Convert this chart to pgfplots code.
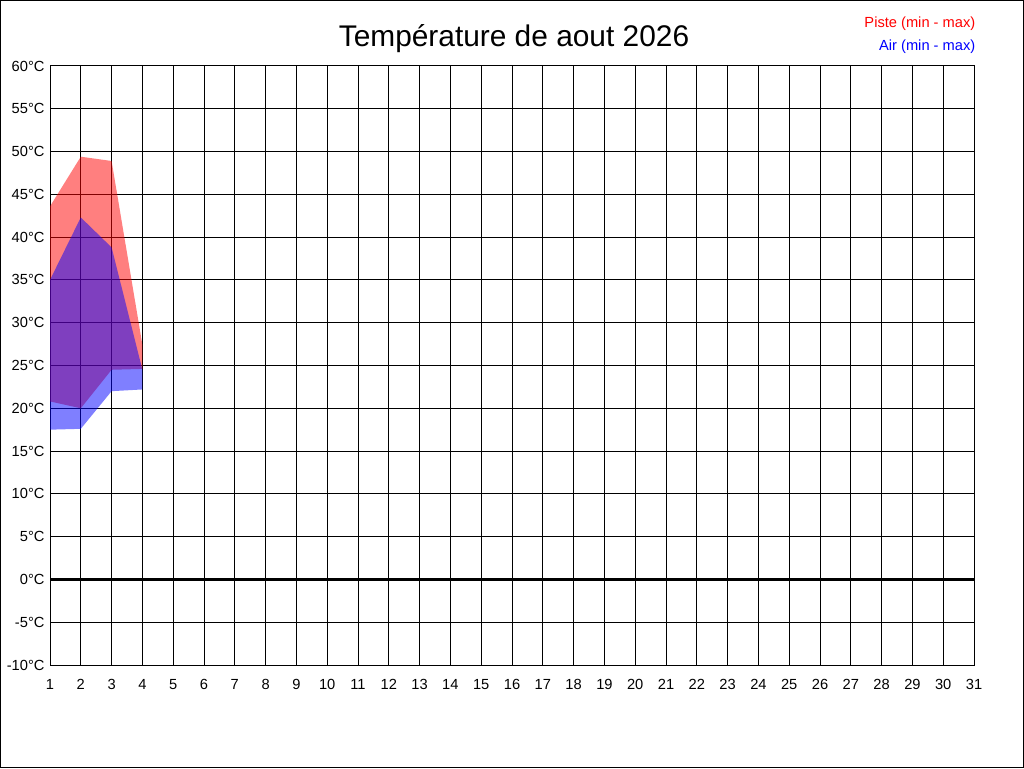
\documentclass[border=0pt]{standalone}
\usepackage{pgfplots}
\pgfplotsset{compat=1.18}
\usepackage{fontspec}
\setmainfont{Liberation Sans}
\begin{document}
\begin{tikzpicture}
\useasboundingbox (0,0) rectangle (768pt,576pt);
\draw[black,line width=0.75pt] (0.375pt,0.375pt) rectangle (767.625pt,575.625pt);
\begin{axis}[
  at={(37.5pt,77.25pt)}, anchor=south west,
  scale only axis, width=693pt, height=449.25pt,
  xmin=1, xmax=31, ymin=-10, ymax=60,
  xtick={1,...,31}, ytick={-10,-5,...,60},
  yticklabels={-10°C,-5°C,0°C,5°C,10°C,15°C,20°C,25°C,30°C,35°C,40°C,45°C,50°C,55°C,60°C},
  /pgf/number format/assume math mode=true,
  tick label style={font=\fontsize{11}{12}\selectfont},
  major tick length=0pt,
  grid=major, grid style={black, line width=0.75pt},
  axis line style={black, line width=0.75pt},
  xticklabel style={yshift=-7pt},
  yticklabel style={xshift=-0.6pt},
]
\addplot[draw=none, fill=red, fill opacity=0.5] coordinates {
 (1,43.6) (2,49.4) (3,48.9) (4,27.4) (4,24.6) (3,24.5) (2,20.0) (1,20.8)} --cycle;
\addplot[draw=none, fill=blue, fill opacity=0.5] coordinates {
 (1,35.0) (2,42.3) (3,38.8) (4,24.5) (4,22.2) (3,22.0) (2,17.6) (1,17.5)} --cycle;
\addplot[black, line width=2.25pt] coordinates {(1,0) (31,0)};
\end{axis}
\node[font=\fontsize{22.4}{25}\selectfont] at (385.5pt,546.75pt) {Température de aout 2026};
\node[anchor=east, text=red, font=\fontsize{11}{12}\selectfont] at (735pt,558pt) {Piste (min - max)};
\node[anchor=east, text=blue, font=\fontsize{11}{12}\selectfont] at (735pt,540.75pt) {Air (min - max)};
\end{tikzpicture}
\end{document}
